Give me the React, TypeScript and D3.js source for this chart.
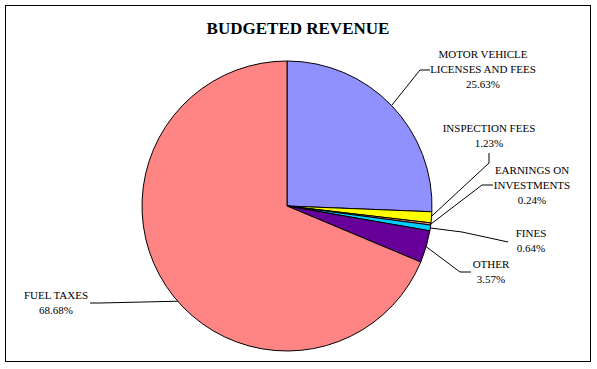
import React from "react";
import * as d3 from "d3";

// slice data, clockwise from 12 o'clock
const categories = [
  "MOTOR VEHICLE LICENSES AND FEES",
  "INSPECTION FEES",
  "EARNINGS ON INVESTMENTS",
  "FINES",
  "OTHER",
  "FUEL TAXES",
];
const shares = [25.63, 1.23, 0.24, 0.64, 3.57, 68.68];
const labelLines = [
  ["MOTOR VEHICLE", "LICENSES AND FEES", "25.63%"],
  ["INSPECTION FEES", "1.23%"],
  ["EARNINGS ON", "INVESTMENTS", "0.24%"],
  ["FINES", "0.64%"],
  ["OTHER", "3.57%"],
  ["FUEL TAXES", "68.68%"],
];
const colors = ["#9090FF", "#FFFF00", "#FF9090", "#00CCFF", "#660099", "#FF8585"];

// label placement (text centre x, first baseline y) and leader elbows
const labelLayout = [
  { x: 483, y: 58, leader: [[420, 70], [430, 70]] },
  { x: 489, y: 132, leader: [[489, 163], [489, 153]] },
  { x: 532, y: 174, leader: [[482, 185], [493, 185]] },
  { x: 531, y: 237, leader: [[462, 232], [508, 242]] },
  { x: 491, y: 268, leader: [[460, 272], [471, 272]] },
  { x: 56, y: 299, leader: [[100, 303], [90, 303]] },
];
// where the leader leaves the rim (fraction through the slice)
const attachAt = [0.5, 0.4, 0.5, 0.5, 0.5, 0.47];

const W = 597;
const H = 369;
const cx = 287;
const cy = 206;
const r = 145;

export default function App() {
  const pie = d3
    .pie<number>()
    .sort(null)
    .value((d) => d)
    .startAngle(0)
    .endAngle(2 * Math.PI);
  const arcs = pie(shares);
  const arc = d3.arc<d3.PieArcDatum<number>>().innerRadius(0).outerRadius(r);
  const line = d3.line();
  const font = "'Liberation Serif', 'Times New Roman', serif";

  return (
    <svg
      width={W}
      height={H}
      style={{ position: "absolute", left: 0, top: 0, background: "#fff" }}
    >
      <rect x={5.5} y={5.5} width={585} height={356} fill="#fff" stroke="#000" strokeWidth={1} />
      <text
        x={298}
        y={34}
        textAnchor="middle"
        fontFamily={font}
        fontWeight="bold"
        fontSize={17}
      >
        BUDGETED REVENUE
      </text>
      <g transform={`translate(${cx},${cy})`}>
        {arcs.map((a, i) => (
          <path
            key={categories[i]}
            d={arc(a) || ""}
            fill={colors[i]}
            stroke="#000"
            strokeWidth={1}
          />
        ))}
      </g>
      {arcs.map((a, i) => {
        const ang = a.startAngle + (a.endAngle - a.startAngle) * attachAt[i];
        const start: [number, number] = [cx + r * Math.sin(ang), cy - r * Math.cos(ang)];
        const pts = [start, ...(labelLayout[i].leader as [number, number][])];
        return (
          <path key={"l" + i} d={line(pts) || ""} fill="none" stroke="#000" strokeWidth={1} />
        );
      })}
      {labelLines.map((ls, i) => (
        <text
          key={"t" + i}
          textAnchor="middle"
          fontFamily={font}
          fontSize={11}
          fill="#000"
        >
          {ls.map((s, j) => (
            <tspan key={j} x={labelLayout[i].x} y={labelLayout[i].y + j * 15}>
              {s}
            </tspan>
          ))}
        </text>
      ))}
    </svg>
  );
}
